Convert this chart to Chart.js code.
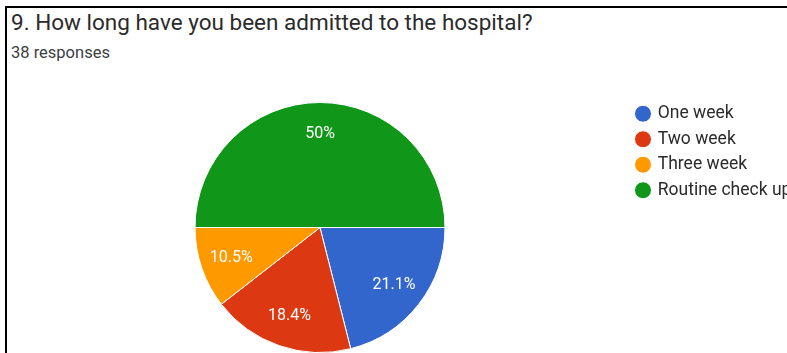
<!DOCTYPE html>
<html>
<head>
<meta charset="utf-8">
<script src="https://cdn.jsdelivr.net/npm/chart.js@4"></script>
<style>
  html, body { margin: 0; padding: 0; background: #fff; overflow: hidden; width: 787px; height: 353px; }
  .frame { position: absolute; left: 5px; top: 6px; width: 800px; height: 400px; border-left: 2px solid #000; border-top: 2px solid #000; }
  .title { position: absolute; left: 11px; top: 9px; font: 22.5px Roboto, sans-serif; color: #2b2b2b; white-space: nowrap; }
  .sub { position: absolute; left: 11px; top: 43px; font: 16.5px Roboto, sans-serif; color: #3c4043; white-space: nowrap; }
  .wrap { position: absolute; left: 0; top: 0; width: 800px; height: 370px; }
</style>
</head>
<body>
<div class="frame"></div>
<div class="title">9. How long have you been admitted to the hospital?</div>
<div class="sub">38 responses</div>
<div class="wrap"><canvas id="pie"></canvas></div>
<script>
const categories = ['One week', 'Two week', 'Three week', 'Routine check up'];
const responses = [8, 7, 4, 19];
const sliceColors = ['#3366cc', '#dc3912', '#ff9900', '#109618'];

Chart.defaults.font.family = 'Roboto, sans-serif';

// percentage labels inside each slice, like the Google Forms summary
const sliceLabels = {
    id: 'sliceLabels',
    afterDatasetsDraw(chart) {
        const ctx = chart.ctx;
        const values = chart.data.datasets[0].data;
        const total = values.reduce((a, b) => a + b, 0);
        ctx.save();
        ctx.fillStyle = '#fff';
        ctx.font = '16px Roboto, sans-serif';
        ctx.textAlign = 'center';
        ctx.textBaseline = 'middle';
        chart.getDatasetMeta(0).data.forEach((arc, i) => {
            const {x, y, startAngle, endAngle, outerRadius} = arc.getProps(['x', 'y', 'startAngle', 'endAngle', 'outerRadius'], true);
            const mid = (startAngle + endAngle) / 2;
            const r = outerRadius * 0.75;
            const pct = Math.round(values[i] / total * 1000) / 10;
            ctx.fillText(pct + '%', x + Math.cos(mid) * r, y + Math.sin(mid) * r);
        });
        ctx.restore();
    }
};

new Chart(document.getElementById('pie'), {
    type: 'pie',
    data: {
        labels: categories,
        datasets: [{
            data: responses,
            backgroundColor: sliceColors,
            borderColor: '#fff',
            borderWidth: 1
        }]
    },
    options: {
        responsive: true,
        maintainAspectRatio: false,
        animation: false,
        rotation: 90,
        radius: 125,
        layout: {
            padding: {left: 11, right: 11, top: 97, bottom: 12}
        },
        plugins: {
            tooltip: {enabled: false},
            legend: {
                position: 'right',
                align: 'start',
                maxWidth: 160,
                labels: {
                    usePointStyle: true,
                    pointStyle: 'circle',
                    boxWidth: 12,
                    boxHeight: 12,
                    padding: 8,
                    color: '#2b2b2b',
                    font: {size: 17.5}
                }
            }
        }
    },
    plugins: [sliceLabels]
});
</script>
</body>
</html>
